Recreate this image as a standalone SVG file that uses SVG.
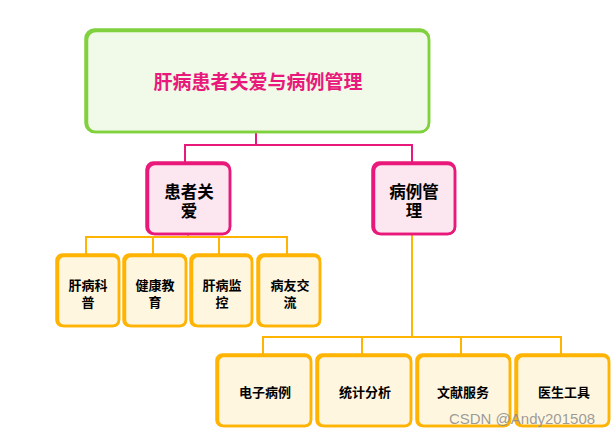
<svg xmlns="http://www.w3.org/2000/svg" width="615" height="437" viewBox="0 0 615 437">
<style>
.t{font-family:"Liberation Sans","Noto Sans CJK SC",sans-serif;font-weight:bold;text-anchor:middle}
.g rect{fill:#F1F9E8;stroke:#80D13E;stroke-width:2.5}
.g .o{fill:none}
.p rect{fill:#FCE6EF;stroke:#E8197A;stroke-width:2.5}
.p .o{fill:none}
.y rect{fill:#FFF6E0;stroke:#FFB404;stroke-width:2.5}
.y .o{fill:none}
.cp{fill:none;stroke:#E8197A;stroke-width:2}
.cy{fill:none;stroke:#FFB404;stroke-width:2}
</style>
<rect width="615" height="437" fill="#fff"/>
<g id="connectors">
<path class="cp" d="M256 133V145M185 163V145H412V163"/>
<path class="cy" d="M188 235V237M86 254V237H287V254M153 237V254M219 237V254"/>
<path class="cy" d="M412 235V337M263 354V337H561V354M362 337V354M461 337V354"/>
</g>
<g id="root" class="g">
<rect x="87" y="31" width="342" height="101" rx="9"/>
<rect class="o" x="85.5" y="29.5" width="343.5" height="102.5" rx="9"/>
<text class="t" x="258" y="89" font-size="19" fill="#E8197A">肝病患者关爱与病例管理</text>
</g>
<g id="care" class="p">
<rect x="148" y="164" width="82" height="70" rx="7"/>
<rect class="o" x="146.5" y="162.5" width="83.5" height="71.5" rx="7"/>
<text class="t" x="189" y="198" font-size="16.5">患者关</text>
<text class="t" x="189" y="217" font-size="16.5">爱</text>
</g>
<g id="case" class="p">
<rect x="374" y="164" width="81" height="70" rx="7"/>
<rect class="o" x="372.5" y="162.5" width="82.5" height="71.5" rx="7"/>
<text class="t" x="414" y="198" font-size="16.5">病例管</text>
<text class="t" x="414" y="217" font-size="16.5">理</text>
</g>
<g id="n1" class="y">
<rect x="58" y="256" width="61" height="70" rx="6"/>
<rect class="o" x="56.5" y="254.5" width="62.5" height="71.5" rx="6"/>
<text class="t" x="88" y="290" font-size="13">肝病科</text>
<text class="t" x="88" y="307" font-size="13">普</text>
</g>
<g id="n2" class="y">
<rect x="125" y="256" width="61" height="70" rx="6"/>
<rect class="o" x="123.5" y="254.5" width="62.5" height="71.5" rx="6"/>
<text class="t" x="155" y="290" font-size="13">健康教</text>
<text class="t" x="155" y="307" font-size="13">育</text>
</g>
<g id="n3" class="y">
<rect x="192" y="256" width="60" height="70" rx="6"/>
<rect class="o" x="190.5" y="254.5" width="61.5" height="71.5" rx="6"/>
<text class="t" x="222" y="290" font-size="13">肝病监</text>
<text class="t" x="222" y="307" font-size="13">控</text>
</g>
<g id="n4" class="y">
<rect x="259" y="256" width="61" height="70" rx="6"/>
<rect class="o" x="257.5" y="254.5" width="62.5" height="71.5" rx="6"/>
<text class="t" x="290" y="290" font-size="13">病友交</text>
<text class="t" x="290" y="307" font-size="13">流</text>
</g>
<g id="m1" class="y">
<rect x="218" y="356" width="93" height="70" rx="6"/>
<rect class="o" x="216.5" y="354.5" width="94.5" height="71.5" rx="6"/>
<text class="t" x="265" y="397" font-size="13">电子病例</text>
</g>
<g id="m2" class="y">
<rect x="318" y="356" width="93" height="70" rx="6"/>
<rect class="o" x="316.5" y="354.5" width="94.5" height="71.5" rx="6"/>
<text class="t" x="365" y="397" font-size="13">统计分析</text>
</g>
<g id="m3" class="y">
<rect x="418" y="356" width="92" height="70" rx="6"/>
<rect class="o" x="416.5" y="354.5" width="93.5" height="71.5" rx="6"/>
<text class="t" x="463" y="397" font-size="13">文献服务</text>
</g>
<g id="m4" class="y">
<rect x="517" y="356" width="92" height="70" rx="6"/>
<rect class="o" x="515.5" y="354.5" width="93.5" height="71.5" rx="6"/>
<text class="t" x="564" y="397" font-size="13">医生工具</text>
</g>
<text x="522" y="424" font-family="Liberation Sans,sans-serif" font-size="15" fill="#8a8a8a" fill-opacity="0.85" text-anchor="middle">CSDN @Andy201508</text>
</svg>
